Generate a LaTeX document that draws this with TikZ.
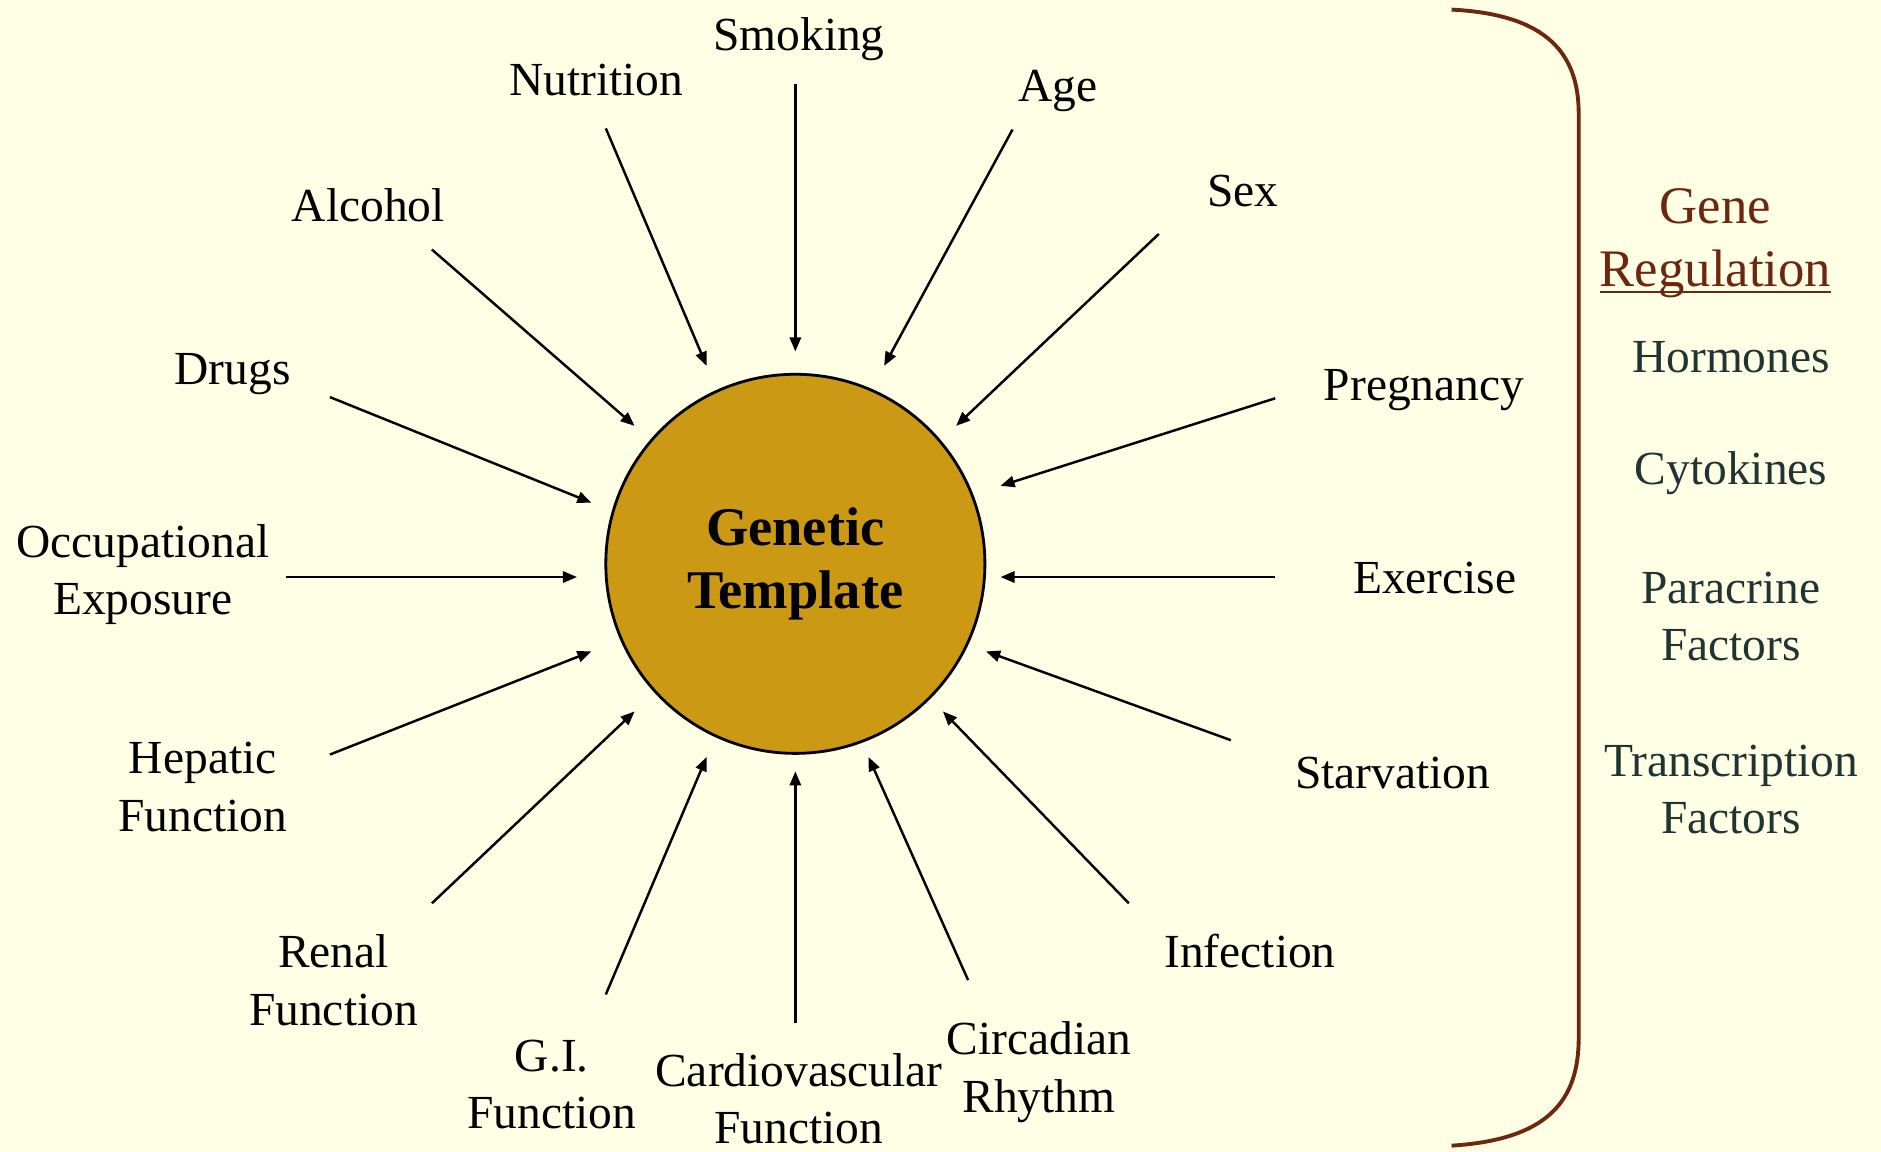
\documentclass[tikz,border=0pt]{standalone}
\usepackage{fontspec}
\setmainfont{Liberation Serif}
\usetikzlibrary{positioning, arrows.meta}
\definecolor{bgyel}{RGB}{255,255,230}
\definecolor{gtgold}{RGB}{204,153,20}
\definecolor{grbrown}{RGB}{110,38,14}
\definecolor{grslate}{RGB}{32,52,52}
\newcommand{\gruline}[1]{\setbox0\hbox{#1}\rlap{\rule[-1.8pt]{\wd0}{0.7pt}}#1}

\begin{document}
\begin{tikzpicture}[
    x=0.012cm, y=-0.012cm,
    lbl/.style = {align=center, inner sep=0pt,
                  font=\fontsize{13.5}{16.4}\selectfont},
    rlbl/.style = {lbl, text=grslate},
    arr/.style = {-{Triangle[length=4pt,width=3.2pt]}, line width=0.7pt},
  ]
    \fill[bgyel] (0,0) rectangle (1568,960);
    \useasboundingbox (0,0) rectangle (1568,960);

    \node[circle, draw, line width=0.8pt, fill=gtgold, minimum size=3.79cm,
          inner sep=0pt, align=center,
          font=\fontsize{15.5}{18}\selectfont\bfseries] (gt) at (663,470)
      {Genetic\\Template};

    % factors round the template
    \node[lbl] (smoking)   at (666,33)  {Smoking};
    \node[lbl] (nutrition) at (497,67)  {Nutrition};
    \node[lbl] (age)       at (882,76)  {Age};
    \node[lbl] (sex)       at (1036,159) {Sex};
    \node[lbl] (alcohol)   at (307,171) {Alcohol};
    \node[lbl] (drugs)     at (194,312) {Drugs};
    \node[lbl] (pregnancy) at (1187,325) {Pregnancy};
    \node[lbl] (occup)     at (119,479) {Occupational\\Exposure};
    \node[lbl] (exercise)  at (1196,482) {Exercise};
    \node[lbl] (hepatic)   at (169,656) {Hepatic\\Function};
    \node[lbl] (starv)     at (1161,644) {Starvation};
    \node[lbl] (renal)     at (278,817) {Renal\\Function};
    \node[lbl] (infection) at (1042,793) {Infection};
    \node[lbl] (gi)        at (460,904) {G.I.\\Function};
    \node[lbl] (cardio)    at (666,916) {Cardiovascular\\Function};
    \node[lbl] (circad)    at (866,894) {Circadian\\Rhythm};

    % arrow ends
    \coordinate (smoking-a)   at (663,70);   \coordinate (smoking-b)   at (663,293);
    \coordinate (nutrition-a) at (505,107);  \coordinate (nutrition-b) at (589,305);
    \coordinate (age-a)       at (844,108);  \coordinate (age-b)       at (737,305);
    \coordinate (sex-a)       at (966,195);  \coordinate (sex-b)       at (797,355);
    \coordinate (alcohol-a)   at (360,208);  \coordinate (alcohol-b)   at (529,355);
    \coordinate (drugs-a)     at (275,331);  \coordinate (drugs-b)     at (493,419);
    \coordinate (pregnancy-a) at (1063,332); \coordinate (pregnancy-b) at (834,405);
    \coordinate (occup-a)     at (238,481);  \coordinate (occup-b)     at (481,481);
    \coordinate (exercise-a)  at (1063,481); \coordinate (exercise-b)  at (834,481);
    \coordinate (hepatic-a)   at (275,629);  \coordinate (hepatic-b)   at (493,543);
    \coordinate (starv-a)     at (1026,617); \coordinate (starv-b)     at (822,543);
    \coordinate (renal-a)     at (360,753);  \coordinate (renal-b)     at (529,593);
    \coordinate (infection-a) at (941,753);  \coordinate (infection-b) at (786,593);
    \coordinate (gi-a)        at (505,829);  \coordinate (gi-b)        at (589,631);
    \coordinate (cardio-a)    at (663,853);  \coordinate (cardio-b)    at (663,643);
    \coordinate (circad-a)    at (807,817);  \coordinate (circad-b)    at (724,631);

    \draw[arr] (smoking-a)   -- (smoking-b);
    \draw[arr] (nutrition-a) -- (nutrition-b);
    \draw[arr] (age-a)       -- (age-b);
    \draw[arr] (sex-a)       -- (sex-b);
    \draw[arr] (alcohol-a)   -- (alcohol-b);
    \draw[arr] (drugs-a)     -- (drugs-b);
    \draw[arr] (pregnancy-a) -- (pregnancy-b);
    \draw[arr] (occup-a)     -- (occup-b);
    \draw[arr] (exercise-a)  -- (exercise-b);
    \draw[arr] (hepatic-a)   -- (hepatic-b);
    \draw[arr] (starv-a)     -- (starv-b);
    \draw[arr] (renal-a)     -- (renal-b);
    \draw[arr] (infection-a) -- (infection-b);
    \draw[arr] (gi-a)        -- (gi-b);
    \draw[arr] (cardio-a)    -- (cardio-b);
    \draw[arr] (circad-a)    -- (circad-b);

    % bracket and gene regulation list
    \draw[grbrown, line width=1.1pt]
      (1210,8) .. controls (1290,12) and (1316,45) .. (1316,95)
      -- (1316,865) .. controls (1316,918) and (1290,950) .. (1210,955);
    \node[align=center, inner sep=0pt, text=grbrown,
          font=\fontsize{15}{18}\selectfont] (genereg) at (1430,203)
      {Gene\\\gruline{Regulation}};
    \node[rlbl] (hormones)  at (1443,298) {Hormones};
    \node[rlbl] (cytokines) at (1443,394) {Cytokines};
    \node[rlbl] (paracrine) at (1443,514) {Paracrine\\Factors};
    \node[rlbl] (transcr)   at (1443,658) {Transcription\\Factors};
  \end{tikzpicture}
\end{document}
